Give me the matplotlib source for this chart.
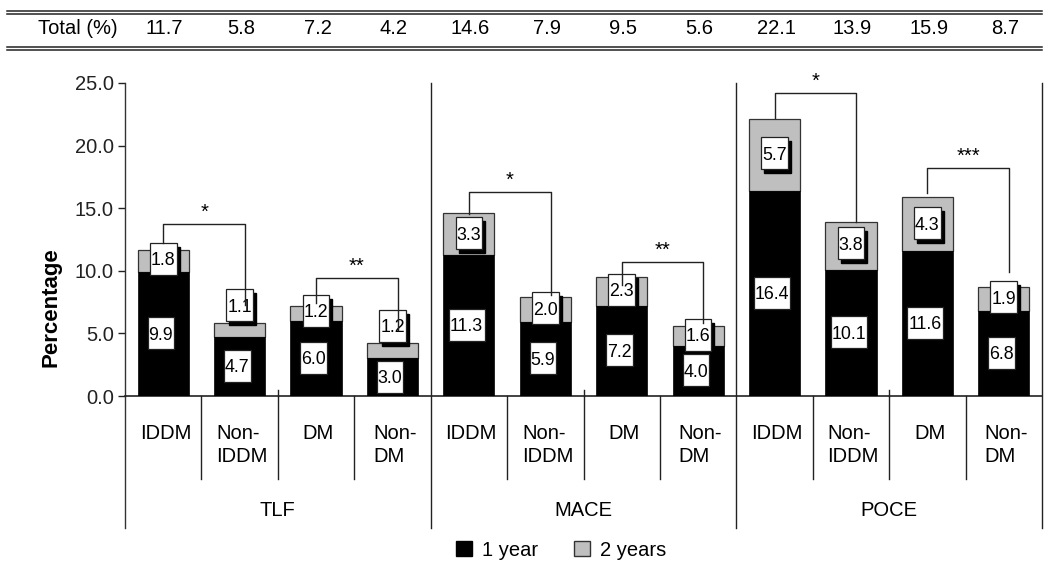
import matplotlib
matplotlib.use("Agg")
import matplotlib.pyplot as plt
import matplotlib.transforms as mtransforms
from matplotlib.patches import Rectangle, Patch
from matplotlib.lines import Line2D

plt.rcParams['font.family'] = ['Liberation Sans', 'DejaVu Sans']

# data
groups = ['TLF', 'MACE', 'POCE']
categories = ['IDDM', 'Non-\nIDDM', 'DM', 'Non-\nDM'] * 3
one_year = [9.9, 4.7, 6.0, 3.0, 11.3, 5.9, 7.2, 4.0, 16.4, 10.1, 11.6, 6.8]
two_year_add = [1.8, 1.1, 1.2, 1.2, 3.3, 2.0, 2.3, 1.6, 5.7, 3.8, 4.3, 1.9]
totals = [11.7, 5.8, 7.2, 4.2, 14.6, 7.9, 9.5, 5.6, 22.1, 13.9, 15.9, 8.7]

# where the 2-year boxes sit (hand placed in the original)
two_year_label_y = [10.95, 7.25, 6.8, 5.6, 13.0, 7.0, 8.5, 4.9, 19.4, 12.2, 13.8, 7.9]

# significance brackets
brk_pairs = [(0, 1), (2, 3), (4, 5), (6, 7), (8, 9), (10, 11)]
brk_stars = ['*', '**', '*', '**', '*', '***']
brk_top = [13.7, 9.4, 16.3, 10.7, 24.2, 18.2]
brk_left_end = [12.2, 7.4, 14.5, 8.9, 22.2, 16.2]
brk_right_end = [7.25, 5.25, 8.05, 5.8, 13.9, 9.9]

BLACK = '#000000'
GRAY = '#bfbfbf'
FS = 14.5

fig = plt.figure(figsize=(10.5, 5.63), dpi=100)
ax = fig.add_axes([125/1050, 167/563, 917/1050, 313/563])

x = list(range(len(one_year)))
bw = 0.67
ax.bar(x, two_year_add, bottom=one_year, width=bw, color=GRAY,
       edgecolor='#333333', linewidth=0.9, zorder=2)
ax.bar(x, one_year, width=bw, color=BLACK, edgecolor=BLACK, linewidth=0.5, zorder=3)

ax.set_xlim(-0.5, len(x) - 0.5)
ax.set_ylim(0, 25)
ax.set_yticks([0, 5, 10, 15, 20, 25])
ax.set_yticklabels(['%.1f' % v for v in [0, 5, 10, 15, 20, 25]], fontsize=FS)
ax.tick_params(axis='y', length=5, width=1, pad=3, colors='#222222')
ax.set_xticks([])
for s in ['top', 'right']:
    ax.spines[s].set_visible(False)
ax.spines['left'].set_color('#333333')
ax.spines['bottom'].set_color('#222222')
ax.spines['left'].set_linewidth(1)
ax.spines['bottom'].set_linewidth(1.2)


def label_box(xc, yc, txt, shadow):
    # white box sized in pixels, centred on a data point
    w = (0.556 * (len(txt) - 1) + 0.278) * 17.0 + 3
    h = 32
    tr = mtransforms.Affine2D().scale(1/100.) + fig.dpi_scale_trans + \
        mtransforms.ScaledTranslation(xc, yc, ax.transData)
    if shadow:
        ax.add_patch(Rectangle((-w/2 + 3, -h/2 - 4), w, h, transform=tr,
                               facecolor='black', edgecolor='black', zorder=4))
    ax.add_patch(Rectangle((-w/2, -h/2), w, h, transform=tr, facecolor='white',
                           edgecolor='#222222', linewidth=0.9, zorder=5))
    ax.text(xc, yc, txt, ha='center', va='center_baseline', fontsize=12.8, zorder=6)


for i in x:
    label_box(i - 0.03, one_year[i] / 2 + 0.05, '%.1f' % one_year[i], False)
    label_box(i, two_year_label_y[i], '%.1f' % two_year_add[i], True)

# brackets
for k, (a, b) in enumerate(brk_pairs):
    xa, xb = a, b + 0.07
    ax.plot([xa, xa, xb, xb], [brk_left_end[k], brk_top[k], brk_top[k], brk_right_end[k]],
            color='#222222', linewidth=1, zorder=7, clip_on=False)
    ax.text((xa + xb) / 2, brk_top[k] + 0.5, brk_stars[k], ha='center', va='baseline',
            fontsize=FS, zorder=7, clip_on=False)

# category grid below the axis
btr = mtransforms.blended_transform_factory(ax.transData, ax.transAxes)
px = 1 / 313.
for b in [0.5, 1.5, 2.5, 4.5, 5.5, 6.5, 8.5, 9.5, 10.5]:
    ax.add_line(Line2D([b, b], [0, -83*px], transform=btr, color='#222222',
                       linewidth=1, clip_on=False))
for b in [1.5, 5.5, 9.5]:
    ax.add_line(Line2D([b, b], [0, 6*px], transform=btr, color='#222222',
                       linewidth=1, clip_on=False))
for b in [3.5, 7.5, 11.5]:
    ax.add_line(Line2D([b, b], [1, -132*px], transform=btr, color='#222222',
                       linewidth=1, clip_on=False))
ax.add_line(Line2D([-0.5, -0.5], [0, -132*px], transform=btr, color='#333333',
                   linewidth=1, clip_on=False))

for i, c in enumerate(categories):
    ax.text(i + 0.03, -28*px, c, transform=btr, ha='center', va='top',
            multialignment='left', fontsize=FS, linespacing=1.25)
for g, name in enumerate(groups):
    ax.text(4*g + 1.5, -115*px, name, transform=btr, ha='center', va='center',
            fontsize=FS)

# percentage label
fig.text(51/1050, 1 - 307/563, 'Percentage', rotation=90, ha='center', va='center',
         fontsize=16, fontweight='bold')

# totals table on top
for yy in [11, 14, 47, 50]:
    fig.add_artist(Line2D([7/1050, 1042/1050], [1 - yy/563, 1 - yy/563],
                          transform=fig.transFigure, color='#222222', linewidth=1.1))
fig.text(78/1050, 1 - 29/563, 'Total (%)', ha='center', va='center', fontsize=FS)
ttr = mtransforms.blended_transform_factory(ax.transData, fig.transFigure)
for i, t in enumerate(totals):
    fig.text(i + 0.02, 1 - 29/563, '%.1f' % t, transform=ttr, ha='center',
             va='center', fontsize=FS)

# legend
handles = [Patch(facecolor=BLACK, edgecolor=BLACK, label='1 year'),
           Patch(facecolor=GRAY, edgecolor='#333333', label='2 years')]
fig.legend(handles=handles, loc='center', bbox_to_anchor=(561/1050, 1 - 550/563),
           ncol=2, frameon=False, fontsize=FS, handlelength=0.8, handleheight=0.8,
           handletextpad=0.5, columnspacing=1.8, borderpad=0)

fig.savefig('out.png', dpi=100)
